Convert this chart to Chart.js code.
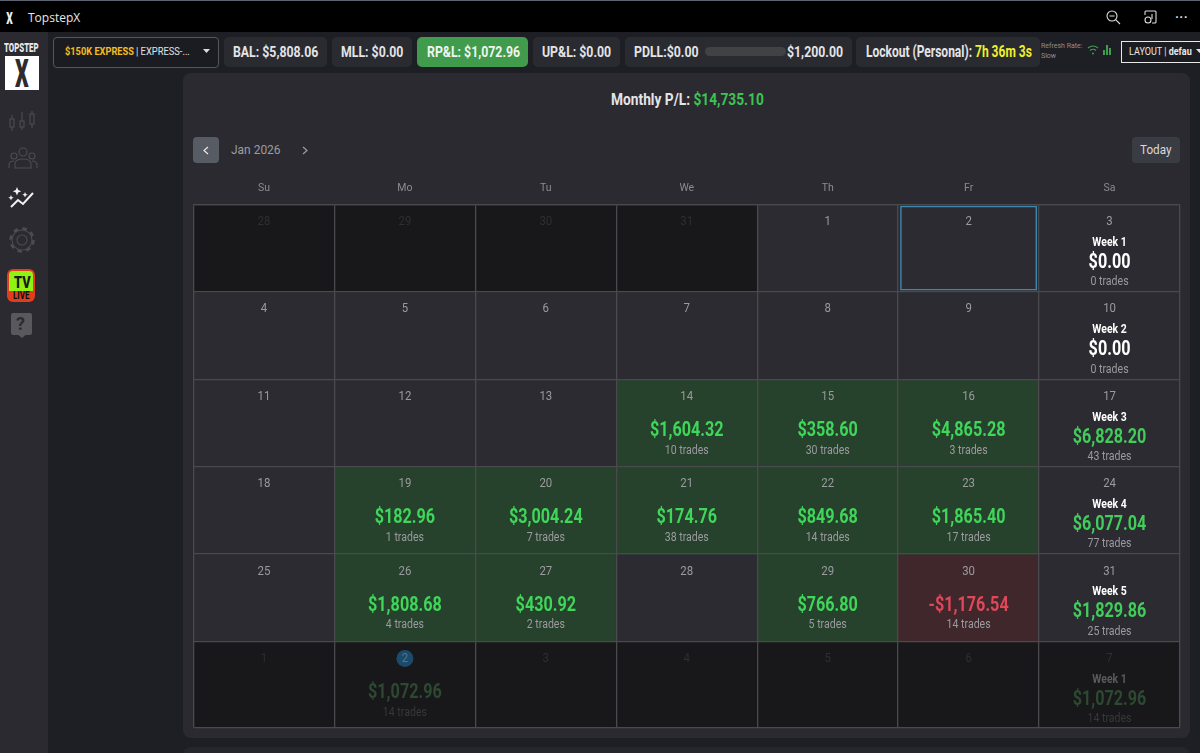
<!DOCTYPE html>
<html><head><meta charset="utf-8"><title>TopstepX</title>
<script src="https://cdn.jsdelivr.net/npm/chart.js@4/dist/chart.umd.min.js"></script>
<style>
html,body{margin:0;padding:0;width:1200px;height:753px;overflow:hidden;background:#1e1f25;font-family:Roboto,sans-serif}
.a{position:absolute;white-space:nowrap}
.b{position:absolute}
.pill{position:absolute;top:37px;height:30px;background:#2a2b31;border-radius:5px}
.t{position:absolute;white-space:nowrap;transform-origin:left center;line-height:16px;font-weight:700;color:#e4e4e6;font-size:15px;transform:scaleX(.82)}
canvas{position:absolute;left:0;top:0}
svg{position:absolute;overflow:visible}
</style></head><body>
<div class="b" style="left:0;top:0;width:1200px;height:32px;background:#000"></div>
<div class="b" style="left:0;top:0;width:1200px;height:1px;background:#5b6470"></div>
<div class="a" style="left:4px;top:8px;color:#eee;font:900 17px Roboto;transform:scaleX(.6)">X</div>
<div class="a" style="left:28px;top:9px;color:#e8e8e8;font:12px 'Open Sans'">TopstepX</div>
<svg style="left:1106px;top:10px" width="14" height="14" fill="none" stroke="#ddd" stroke-width="1.1"><circle cx="6" cy="6" r="5"/><path d="M3.5 6h5M9.6 9.6l4.4 4.4"/></svg>
<svg style="left:1144px;top:10px" width="14" height="14" fill="none" stroke="#ddd" stroke-width="1.1"><path d="M1 5V2q0-1 1-1h9q1 0 1 1v10q0 1-1 1H8M8 4v5"/><circle cx="4" cy="10" r="3"/></svg>
<div class="a" style="left:1175px;top:9px;color:#ddd;font:700 13px Roboto;letter-spacing:.4px">···</div>

<div class="b" style="left:0;top:32px;width:48px;height:721px;background:#2a2a30"></div>
<div class="a" style="left:4px;top:40px;color:#e8e8ea;font:900 13px Roboto;transform:scaleX(.6);transform-origin:left">TOPSTEP</div>
<div class="b" style="left:5px;top:56px;width:34px;height:34px;background:#fff"></div>
<div class="a" style="left:15px;top:51px;color:#2c2c2e;font:900 39px Roboto;transform:scaleX(.55);transform-origin:left">X</div>
<svg style="left:9px;top:110px" width="26" height="24" fill="none" stroke="#4c4c52" stroke-width="1.1"><path d="M3 5v16M13 2v18M23 1v17"/><rect x="1" y="9" width="4" height="8" fill="#2a2a30"/><rect x="11" y="11" width="4" height="6" fill="#2a2a30"/><rect x="21" y="4" width="4" height="10" fill="#2a2a30"/></svg>
<svg style="left:8px;top:147px" width="30" height="22" fill="none" stroke="#4c4c52" stroke-width="1.1"><circle cx="15" cy="5" r="4"/><circle cx="6" cy="9" r="3"/><circle cx="24" cy="9" r="3"/><path d="M7 21v-4q0-5 8-5t8 5v4zM1 21v-3q0-4 5-4M29 21v-3q0-4-5-4"/></svg>
<svg style="left:9px;top:187px" width="26" height="22" fill="none" stroke="#f2f2f2" stroke-width="2"><path d="M2 20l7-7 5 4 10-11"/><path d="M8 0l1.2 3 3 1.2-3 1.2L8 8.4 6.8 5.400l-3-1.200 3-1.200zM2 8l.8 2 2 .8-2 .8L2 13.600 1.200 11.600l-2-.8 2-.8zM16 5l.8 2 2 .8-2 .8-.8 2-.8-2-2-.8 2-.8z" fill="#f2f2f2" stroke="none"/></svg>
<svg style="left:9px;top:227px" width="26" height="26" fill="none" stroke="#4c4c52" stroke-width="1.1"><circle cx="13" cy="13" r="5"/><circle cx="13" cy="13" r="10"/><circle cx="13" cy="13" r="11.500" stroke-width="2.500" stroke-dasharray="4.500 4.530"/></svg>
<div class="b" style="left:7px;top:269px;width:28px;height:33px;background:#e23c1f;border-radius:6px"></div>
<div class="b" style="left:9px;top:271px;width:24px;height:20px;background:#8ff312;border-radius:4px 4px 0 0"></div>
<div class="a" style="left:14px;top:272px;color:#1a1a1a;font:900 17px Roboto;transform:scaleX(.75);transform-origin:left">TV</div>
<div class="a" style="left:13px;top:290px;color:#111;font:800 10px Roboto;transform:scaleX(.8);transform-origin:left">LIVE</div>
<div class="b" style="left:11px;top:313px;width:21px;height:22px;background:#58585d;border-radius:2px"></div>
<div class="a" style="left:16px;top:313px;color:#2a2a30;font:700 18px Roboto">?</div>
<svg style="left:17px;top:334px" width="10" height="4"><path d="M0 0h10L5 4z" fill="#58585d"/></svg>

<div class="b" style="left:53px;top:37px;width:164px;height:29px;background:#1b1c21;border:1px solid #55565c;border-radius:4px"></div>
<div class="t" style="left:65px;top:44px;font-size:11px;color:#f7bd1f;transform:scaleX(.84)">$150K EXPRESS</div>
<div class="t" style="left:136px;top:44px;font-size:11px;font-weight:400;color:#e2e2e2;transform:scaleX(.85)">| EXPRESS-...</div>
<svg style="left:203px;top:49px" width="7" height="4"><path d="M0 0h7L3.500 4z" fill="#ddd"/></svg>

<div class="pill" style="left:224px;width:103px"></div><div class="t" style="left:233px;top:44px">BAL: $5,808.06</div>
<div class="pill" style="left:332px;width:80px"></div><div class="t" style="left:341px;top:44px">MLL: $0.00</div>
<div class="pill" style="left:417px;width:111px;background:#419b4d"></div><div class="t" style="left:427px;top:44px;color:#f0f5f0">RP&amp;L: $1,072.96</div>
<div class="pill" style="left:533px;width:87px"></div><div class="t" style="left:542px;top:44px">UP&amp;L: $0.00</div>
<div class="pill" style="left:625px;width:227px"></div><div class="t" style="left:634px;top:44px">PDLL:$0.00</div>
<div class="b" style="left:705px;top:47px;width:81px;height:9px;background:#414246;border-radius:5px"></div>
<div class="t" style="left:787px;top:44px">$1,200.00</div>
<div class="pill" style="left:856px;width:184px"></div>
<div class="t" style="left:866px;top:44px;font-size:16px;transform:scaleX(.75)">Lockout (Personal): <span style="color:#eef02a">7h 36m 3s</span></div>
<div class="a" style="left:1041px;top:41px;color:#8d8e92;font:7px/10px Roboto">Refresh Rate:<br>Slow</div>
<svg style="left:1087px;top:45px" width="12" height="10" fill="none" stroke="#3f9c52" stroke-width="1.200"><path d="M1 3q5-4 10 0M3 5.500q3-2.500 6 0"/><circle cx="6" cy="8.500" r="1" fill="#3f9c52" stroke="none"/></svg>
<svg style="left:1103px;top:45px" width="9" height="10" fill="#3f9c52"><rect x="0" y="5" width="2" height="5"/><rect x="3" y="0" width="2" height="10"/><rect x="6" y="3" width="2" height="7"/></svg>
<div class="b" style="left:1121px;top:41px;width:90px;height:20px;background:#1b1c21;border:1px solid #e8e8e8"></div>
<div class="t" style="left:1129px;top:44px;font-size:11px;font-weight:400;transform:scaleX(.82);color:#e8e8e8">LAYOUT | <b>defau</b></div>
<svg style="left:1196px;top:49px" width="7" height="4"><path d="M0 0h7L3.500 4z" fill="#ddd"/></svg>

<div class="b" style="left:183px;top:73px;width:1007px;height:665px;background:#2a2a30;border-radius:8px"></div>
<div class="b" style="left:183px;top:747px;width:1007px;height:20px;background:#25262c;border-radius:8px"></div>
<div class="t" style="left:611px;top:91px;font-size:17px;transform:scaleX(.808)">Monthly P/L: <span style="color:#3cc451">$14,735.10</span></div>
<div class="b" style="left:193px;top:137px;width:26px;height:26px;background:#565b64;border-radius:4px"></div>
<svg style="left:203px;top:146px" width="6" height="9" fill="none" stroke="#e8e8e8" stroke-width="1.200"><path d="M5 1L1 4.500 5 8"/></svg>
<div class="a" style="left:231px;top:142px;color:#9c9ca2;font:13px/16px Roboto;transform:scaleX(.92);transform-origin:left">Jan 2026</div>
<svg style="left:302px;top:146px" width="6" height="9" fill="none" stroke="#9c9ca2" stroke-width="1.200"><path d="M1 1l4 3.500L1 8"/></svg>
<div class="b" style="left:1132px;top:137px;width:48px;height:26px;background:#3a3c43;border-radius:4px"></div>
<div class="a" style="left:1140px;top:142px;color:#d8d8da;font:13px/16px Roboto;transform:scaleX(.9);transform-origin:left">Today</div>

<canvas id="c" width="1200" height="753"></canvas>
<script>
const weekdays = ['Su','Mo','Tu','We','Th','Fr','Sa'];
const weekIndex = [0,1,2,3,4,5];
const calendarDays = [
  [28,29,30,31,1,2,3],
  [4,5,6,7,8,9,10],
  [11,12,13,14,15,16,17],
  [18,19,20,21,22,23,24],
  [25,26,27,28,29,30,31],
  [1,2,3,4,5,6,7]
];
const dailyPnl = [
  [null,null,null,null,null,null,null],
  [null,null,null,null,null,null,null],
  [null,null,null,1604.32,358.60,4865.28,null],
  [null,182.96,3004.24,174.76,849.68,1865.40,null],
  [null,1808.68,430.92,null,766.80,-1176.54,null],
  [null,1072.96,null,null,null,null,null]
];
const dailyTrades = [
  [null,null,null,null,null,null,null],
  [null,null,null,null,null,null,null],
  [null,null,null,10,30,3,null],
  [null,1,7,38,14,17,null],
  [null,4,2,null,5,14,null],
  [null,14,null,null,null,null,null]
];
const weekLabels = ['Week 1','Week 2','Week 3','Week 4','Week 5','Week 1'];
const weekPnl = [0,0,6828.20,6077.04,1829.86,1072.96];
const weekTrades = [0,0,43,77,25,14];
const todayMarker = [null,null,null,null,null,[0.015,0.985],null];

const SCALE = {val:.81, week:.87, tr:.88};
const money = v => (v<0?'-':'')+'$'+Math.abs(v).toLocaleString('en-US',{minimumFractionDigits:2,maximumFractionDigits:2});
const outside = (r,c) => (r===0 && calendarDays[r][c]>7) || r===5;
function cellColor(r,c){
  if(outside(r,c)) return '#18181a';
  const v = dailyPnl[r][c];
  if(v===null) return '#2c2b31';
  return v<0 ? '#40272b' : '#26412c';
}

function label(ctx,text,x,y,font,color,sx){
  ctx.save();
  ctx.translate(x,y);
  ctx.scale(sx,1);
  ctx.font=font; ctx.fillStyle=color; ctx.textAlign='center'; ctx.textBaseline='middle';
  ctx.fillText(text,0,0);
  ctx.restore();
}
const cellText = {
  id:'cellText',
  afterDraw(chart){
    const {ctx,scales:{x,y}}=chart;
    weekIndex.forEach(r=>{
      const top=y.getPixelForValue(r);
      const dim=r===5;
      weekdays.forEach((d,c)=>{
        const cx=x.getPixelForValue(c);
        const off=outside(r,c);
        const n=calendarDays[r][c];
        if(r===5 && n===2){
          ctx.save();ctx.fillStyle='#1b4a6a';ctx.beginPath();ctx.arc(cx,top+17,8.5,0,7);ctx.fill();ctx.restore();
          label(ctx,String(n),cx,top+17.5,'12px Roboto','#55748a',.95);
        } else {
          label(ctx,String(n),cx,top+17.5,'12px Roboto',off?'#2f2f32':'#9b9b9f',.95);
        }
        const v=dailyPnl[r][c];
        if(v!==null){
          const col=dim?'#2c4a31':(v<0?'#e0485a':'#3fd65a');
          label(ctx,money(v),cx,top+51.8,'700 20px Roboto',col,SCALE.val);
          label(ctx,dailyTrades[r][c]+' trades',cx,top+71.3,'12px Roboto',dim?'#38383b':'#9b9b9f',SCALE.tr);
        }
        if(c===6){
          const w=weekPnl[r];
          label(ctx,weekLabels[r],cx,top+38.3,'700 12px Roboto',dim?'#5a5a5c':'#ffffff',SCALE.week);
          label(ctx,money(w),cx,top+58.3,'700 20px Roboto',dim?'#2c4a31':(w>0?'#42cc5c':'#ffffff'),SCALE.val);
          label(ctx,weekTrades[r]+' trades',cx,top+77.8,'12px Roboto',dim?'#38383b':'#9b9b9f',SCALE.tr);
        }
      });
    });
  }
};
const rowDatasets = weekIndex.map(r=>({
  label:'Row '+r,
  data:weekdays.map(()=>[r,r+1]),
  grouped:false,
  barPercentage:1,
  categoryPercentage:1,
  borderSkipped:false,
  borderWidth:0,
  backgroundColor:ctx=>cellColor(r,ctx.dataIndex),
  order:2
}));
new Chart(document.getElementById('c'),{
  type:'bar',
  data:{
    labels:weekdays,
    datasets:[...rowDatasets,{
      label:'Today',
      data:todayMarker,
      grouped:false,
      barPercentage:.972,
      categoryPercentage:1,
      borderSkipped:false,
      backgroundColor:'rgba(0,0,0,0)',
      borderColor:'#3f87ad',
      borderWidth:1.5,
      order:1
    }]
  },
  options:{
    responsive:false,
    animation:false,
    devicePixelRatio:1,
    layout:{padding:{left:193.5,right:20,top:170,bottom:25.5}},
    plugins:{legend:{display:false},tooltip:{enabled:false},title:{display:false}},
    scales:{
      x:{
        position:'top',
        grid:{color:'#4a4a4e',lineWidth:1.3,drawTicks:false,z:1,offset:true},
        border:{color:'#4a4a4e',width:1.3,z:1},
        ticks:{color:'#8b8b90',font:{family:'Roboto',size:10.5},padding:9.5},
        afterFit(s){s.height=34.5;}
      },
      y:{
        min:0,max:5.984,reverse:true,
        grid:{color:'#4a4a4e',lineWidth:1.3,drawTicks:false,z:1},
        border:{display:false},
        ticks:{display:false,stepSize:1},
        afterFit(s){s.width=0;}
      }
    }
  },
  plugins:[cellText]
});
</script>
</body></html>
